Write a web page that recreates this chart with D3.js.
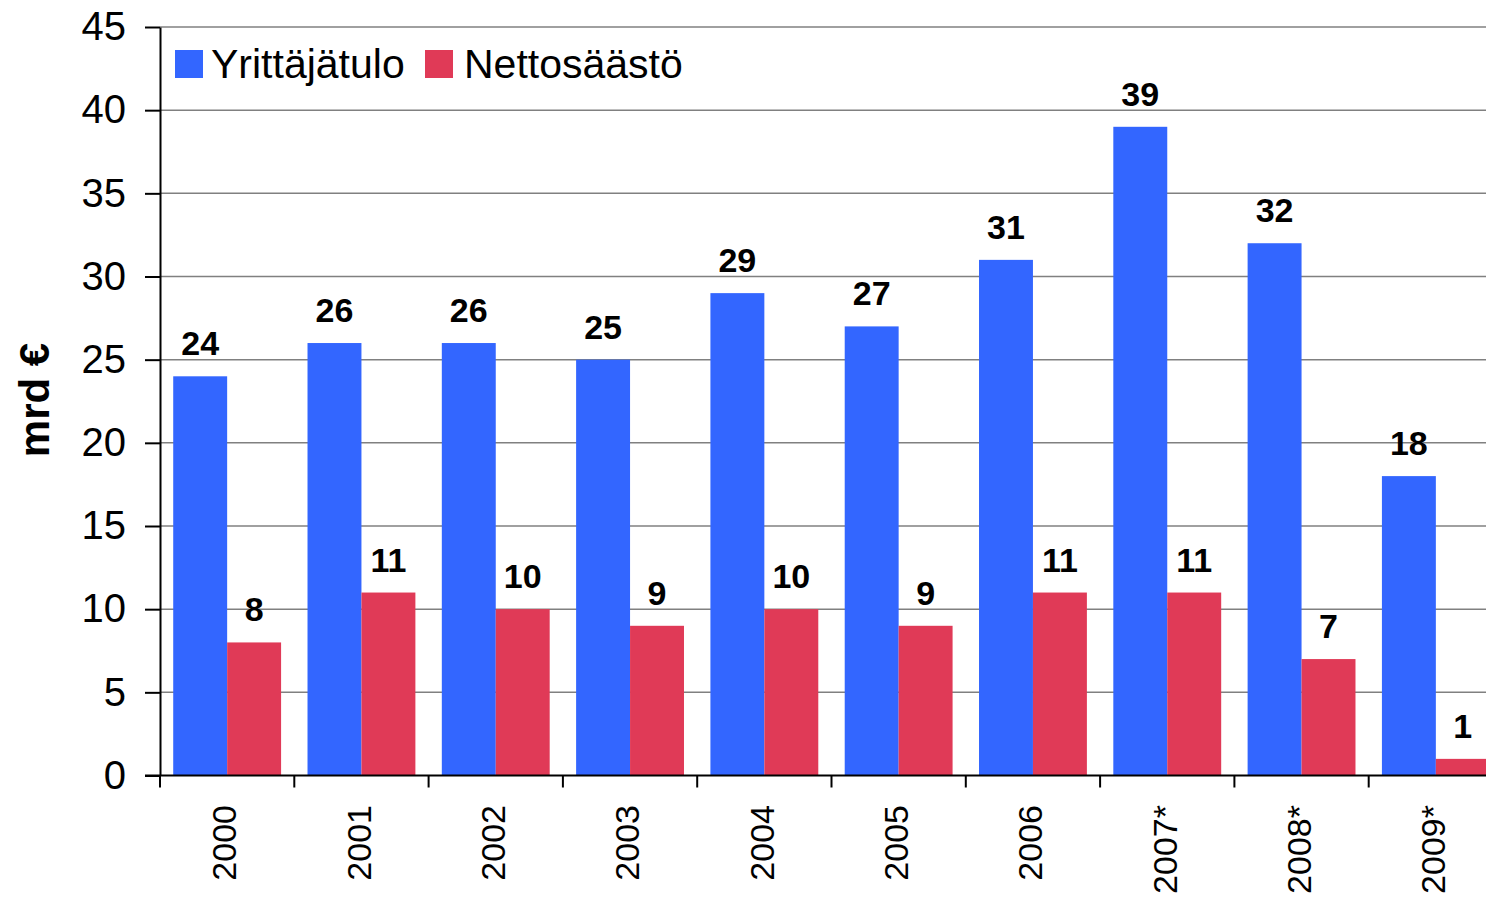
<!DOCTYPE html>
<html>
<head>
<meta charset="utf-8">
<script src="https://d3js.org/d3.v7.min.js"></script>
<style>
  body { margin: 0; background: #fff; }
  text { font-family: "Liberation Sans", Arial, sans-serif; }
</style>
</head>
<body>
<div id="chart"></div>
<script>
// chart data
var years = ["2000", "2001", "2002", "2003", "2004", "2005", "2006", "2007*", "2008*", "2009*"];
var seriesNames = ["Yrittäjätulo", "Nettosäästö"];
var yrittajatulo = [24, 26, 26, 25, 29, 27, 31, 39, 32, 18];
var nettosaasto = [8, 11, 10, 9, 10, 9, 11, 11, 7, 1];
var yTicks = [0, 5, 10, 15, 20, 25, 30, 35, 40, 45];
var colors = ["#3366FF", "#E03A57"];

var svgWidth = 1486;
var svgHeight = 898;

var svg = d3.select("#chart")
  .append("svg")
  .attr("width", svgWidth)
  .attr("height", svgHeight);

var rows = years.map(function(y, i) {
  return { year: y, values: [yrittajatulo[i], nettosaasto[i]] };
});

// scales (plot runs a bit past the right edge, like the original)
var x0 = d3.scaleBand()
  .domain(years)
  .range([160, 1503]);

var x1 = d3.scaleBand()
  .domain(seriesNames)
  .range([0, x0.bandwidth()])
  .paddingOuter(0.245);

var y = d3.scaleLinear()
  .domain([0, 45])
  .range([775.5, 27]);

// gridlines
svg.append("g")
  .selectAll("line")
  .data(yTicks.filter(d => d > 0))
  .enter()
  .append("line")
  .attr("x1", 160)
  .attr("x2", svgWidth)
  .attr("y1", d => y(d))
  .attr("y2", d => y(d))
  .attr("stroke", "#808080")
  .attr("stroke-width", 1.5);

// bars
var groups = svg.append("g")
  .selectAll("g")
  .data(rows)
  .enter()
  .append("g")
  .attr("transform", d => `translate(${x0(d.year)},0)`);

groups.selectAll("rect")
  .data(d => d.values.map((v, i) => ({ name: seriesNames[i], value: v, i: i })))
  .enter()
  .append("rect")
  .attr("x", d => x1(d.name))
  .attr("y", d => y(d.value))
  .attr("width", x1.bandwidth())
  .attr("height", d => y(0) - y(d.value))
  .attr("fill", d => colors[d.i]);

// value labels
groups.selectAll("text")
  .data(d => d.values.map((v, i) => ({ name: seriesNames[i], value: v })))
  .enter()
  .append("text")
  .attr("x", d => x1(d.name) + x1.bandwidth() / 2)
  .attr("y", d => y(d.value) - 21)
  .attr("text-anchor", "middle")
  .attr("font-size", "34px")
  .attr("font-weight", "bold")
  .attr("fill", "#000")
  .text(d => d.value);

// y axis
var yAxis = svg.append("g")
  .attr("transform", "translate(160,0)")
  .call(d3.axisLeft(y).tickValues(yTicks).tickSize(15).tickSizeOuter(0).tickPadding(19));

yAxis.select(".domain").attr("stroke", "#000").attr("stroke-width", 2);
yAxis.selectAll(".tick line").attr("stroke", "#000").attr("stroke-width", 2);
yAxis.selectAll(".tick text")
  .attr("font-size", "40px")
  .attr("font-family", "'Liberation Sans', Arial, sans-serif")
  .attr("fill", "#000");

// x axis line and ticks at band edges
svg.append("line")
  .attr("x1", 145)
  .attr("x2", svgWidth)
  .attr("y1", y(0))
  .attr("y2", y(0))
  .attr("stroke", "#000")
  .attr("stroke-width", 2);

var edges = years.map(d => x0(d)).concat([x0.range()[1]]);
svg.append("g")
  .selectAll("line")
  .data(edges)
  .enter()
  .append("line")
  .attr("x1", d => d)
  .attr("x2", d => d)
  .attr("y1", y(0))
  .attr("y2", y(0) + 12)
  .attr("stroke", "#000")
  .attr("stroke-width", 2);

svg.append("g")
  .selectAll("text")
  .data(years)
  .enter()
  .append("text")
  .attr("transform", d => `translate(${x0(d) + x0.bandwidth() / 2 - 3},805) rotate(-90)`)
  .attr("dy", "0.36em")
  .attr("text-anchor", "end")
  .attr("font-size", "34px")
  .attr("fill", "#000")
  .text(d => d);

// y axis title
svg.append("text")
  .attr("transform", "translate(49,400) rotate(-90)")
  .attr("text-anchor", "middle")
  .attr("font-size", "42px")
  .attr("font-weight", "bold")
  .text("mrd €");

// legend
var legendX = [175, 425];
var legend = svg.append("g")
  .selectAll("g")
  .data(seriesNames)
  .enter()
  .append("g")
  .attr("transform", (d, i) => `translate(${legendX[i]},50)`);

legend.append("rect")
  .attr("width", 28)
  .attr("height", 28)
  .attr("fill", (d, i) => colors[i]);

legend.append("text")
  .attr("x", (d, i) => i === 0 ? 36 : 39)
  .attr("y", 28)
  .attr("font-size", "41px")
  .attr("fill", "#000")
  .text(d => d);
</script>
</body>
</html>
